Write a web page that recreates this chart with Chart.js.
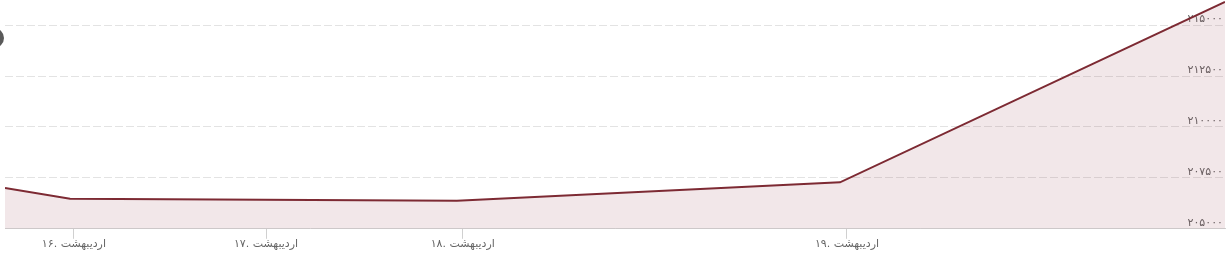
<!DOCTYPE html>
<html>
<head>
<meta charset="utf-8">
<script src="https://cdn.jsdelivr.net/npm/chart.js@4/dist/chart.umd.min.js"></script>
<style>
    html, body { margin: 0; padding: 0; background: #fff; overflow: hidden; }
    #wrap { position: relative; width: 1229px; height: 264px; }
    #dot { position: absolute; left: -16px; top: 28px; width: 20px; height: 20px; border-radius: 50%; background: #5a5a5a; }
</style>
</head>
<body>
<div id="wrap">
    <canvas id="priceChart" width="1229" height="264"></canvas>
    <div id="dot"></div>
</div>
<script>
// data
const pointX = [-0.169, 0, 1.005, 2.0, 3.0];
const prices = [207005, 206478, 206379, 207281, 216133];
const xTickPos = [0.01, 0.509, 1.02, 2.018];
const xTickLabels = ['۱۶. اردیبهشت', '۱۷. اردیبهشت', '۱۸. اردیبهشت', '۱۹. اردیبهشت'];
const yTicks = [205000, 207500, 210000, 212500, 215000];

function faDigits(n) {
    const d = '۰۱۲۳۴۵۶۷۸۹';
    return String(n).replace(/[0-9]/g, c => d[c]);
}

const points = pointX.map((x, i) => ({x: x, y: prices[i]}));

const ctx = document.getElementById('priceChart').getContext('2d');
const myChart = new Chart(ctx, {
    type: 'line',
    data: {
        datasets: [{
            data: points,
            borderColor: '#7d2a33',
            backgroundColor: 'rgba(140, 40, 55, 0.11)',
            borderWidth: 2,
            fill: 'start',
            pointRadius: 0,
            tension: 0
        }]
    },
    options: {
        responsive: false,
        animation: false,
        layout: {padding: {left: 5, right: 0, top: 0, bottom: 14}},
        plugins: {legend: {display: false}, tooltip: {enabled: false}},
        scales: {
            x: {
                type: 'linear',
                min: pointX[0],
                max: pointX[pointX.length - 1],
                afterBuildTicks: (axis) => {
                    axis.ticks = xTickPos.map(v => ({value: v}));
                },
                ticks: {
                    autoSkip: false,
                    maxRotation: 0,
                    color: '#666',
                    font: {family: 'DejaVu Sans', size: 11},
                    padding: -1,
                    callback: (v, i) => xTickLabels[i]
                },
                grid: {
                    drawOnChartArea: false,
                    tickLength: 10,
                    color: '#d0d0d0'
                },
                border: {color: '#d0d0d0', width: 1}
            },
            y: {
                position: 'right',
                min: 205000,
                max: 216232,
                afterBuildTicks: (axis) => {
                    axis.ticks = yTicks.map(v => ({value: v}));
                },
                afterFit: (axis) => {
                    // labels sit inside the plot, no room needed around it
                    axis.paddingTop = 0;
                    axis.paddingBottom = 0;
                    axis.width = 4;
                },
                ticks: {
                    mirror: true,
                    padding: -2,
                    labelOffset: -6,
                    color: '#666',
                    font: {family: 'DejaVu Sans', size: 11},
                    callback: (v) => faDigits(v)
                },
                grid: {
                    color: '#e3e3e3',
                    drawTicks: false
                },
                border: {display: false, dash: [8, 3]}
            }
        }
    }
});
</script>
</body>
</html>
